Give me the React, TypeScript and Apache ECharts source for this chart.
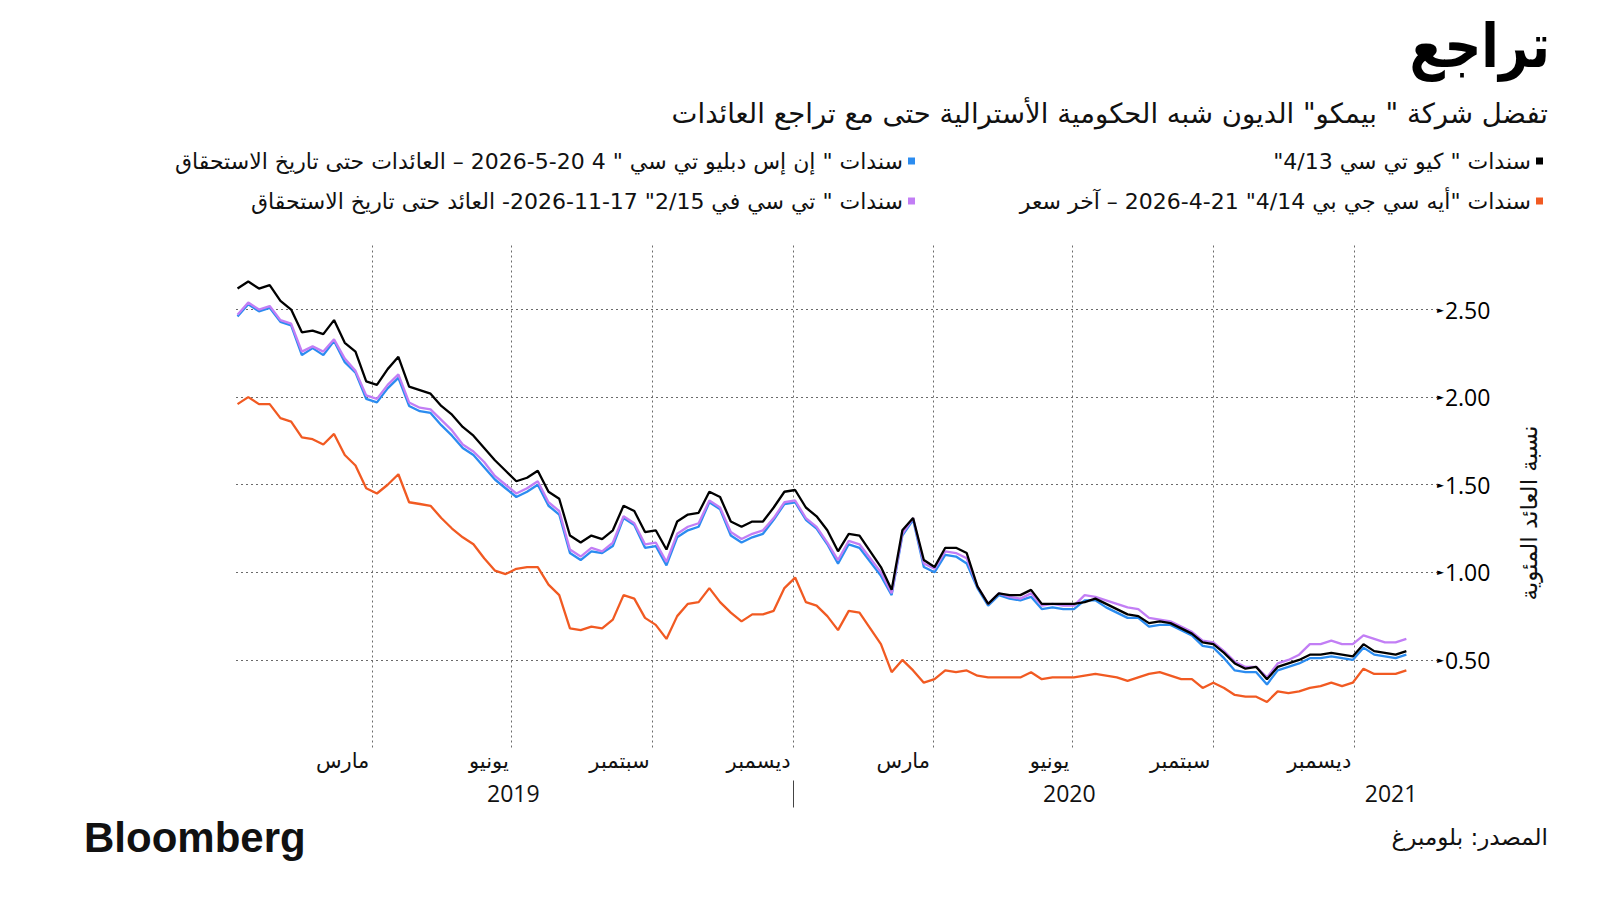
import { useEffect, useRef } from 'react';
import * as echarts from 'echarts';

// ---------- DATA ----------
// weekly observations (Thursdays) from 2019-01-03
const FIRST_WEEK = [2019, 1, 3];
const WEEK_COUNT = 110;

const seriesQTC = [
  2.62, 2.66, 2.62, 2.64, 2.55, 2.50, 2.37, 2.38, 2.36, 2.44, 2.31, 2.26, 2.09, 2.07, 2.16, 2.23, 2.06, 2.04, 2.02, 1.95,
  1.90, 1.83, 1.78, 1.71, 1.64, 1.58, 1.52, 1.54, 1.58, 1.46, 1.42, 1.21, 1.17, 1.21, 1.19, 1.24, 1.38, 1.35, 1.23, 1.24,
  1.13, 1.29, 1.33, 1.34, 1.46, 1.43, 1.29, 1.26, 1.29, 1.29, 1.37, 1.46, 1.47, 1.37, 1.32, 1.24, 1.12, 1.22, 1.21, 1.12,
  1.03, 0.90, 1.24, 1.31, 1.07, 1.03, 1.14, 1.14, 1.11, 0.92, 0.82, 0.88, 0.87, 0.87, 0.90, 0.82, 0.82, 0.82, 0.82, 0.83,
  0.85, 0.82, 0.79, 0.76, 0.75, 0.71, 0.72, 0.71, 0.68, 0.65, 0.60, 0.59, 0.54, 0.48, 0.45, 0.46, 0.39, 0.46, 0.48, 0.50,
  0.53, 0.53, 0.54, 0.53, 0.52, 0.59, 0.55, 0.54, 0.53, 0.55
];
const seriesTCV = [
  2.47, 2.54, 2.50, 2.52, 2.44, 2.42, 2.26, 2.29, 2.26, 2.33, 2.22, 2.15, 2.01, 1.99, 2.07, 2.13, 1.97, 1.94, 1.93, 1.87,
  1.81, 1.73, 1.69, 1.63, 1.55, 1.50, 1.45, 1.48, 1.52, 1.40, 1.35, 1.13, 1.09, 1.14, 1.12, 1.17, 1.32, 1.28, 1.16, 1.17,
  1.06, 1.22, 1.26, 1.28, 1.41, 1.37, 1.23, 1.19, 1.22, 1.24, 1.31, 1.40, 1.41, 1.31, 1.26, 1.17, 1.07, 1.18, 1.16, 1.08,
  1.00, 0.88, 1.22, 1.31, 1.05, 1.02, 1.12, 1.11, 1.08, 0.92, 0.82, 0.88, 0.86, 0.85, 0.88, 0.81, 0.82, 0.81, 0.81, 0.87,
  0.86, 0.84, 0.82, 0.80, 0.79, 0.74, 0.73, 0.72, 0.69, 0.66, 0.61, 0.60, 0.55, 0.49, 0.46, 0.46, 0.40, 0.48, 0.50, 0.53,
  0.59, 0.59, 0.61, 0.59, 0.59, 0.64, 0.62, 0.60, 0.60, 0.62
];
const seriesNSW = [
  2.46, 2.53, 2.49, 2.51, 2.43, 2.41, 2.24, 2.28, 2.24, 2.32, 2.20, 2.14, 1.99, 1.97, 2.05, 2.11, 1.95, 1.92, 1.91, 1.84,
  1.78, 1.71, 1.67, 1.60, 1.53, 1.48, 1.43, 1.46, 1.50, 1.38, 1.33, 1.11, 1.07, 1.12, 1.11, 1.15, 1.31, 1.27, 1.14, 1.15,
  1.04, 1.20, 1.24, 1.26, 1.40, 1.36, 1.21, 1.17, 1.20, 1.22, 1.30, 1.39, 1.40, 1.30, 1.25, 1.16, 1.05, 1.16, 1.14, 1.06,
  0.98, 0.87, 1.21, 1.30, 1.03, 1.00, 1.10, 1.09, 1.05, 0.91, 0.81, 0.87, 0.85, 0.84, 0.86, 0.79, 0.80, 0.79, 0.79, 0.84,
  0.84, 0.80, 0.77, 0.74, 0.74, 0.69, 0.70, 0.70, 0.67, 0.64, 0.58, 0.57, 0.51, 0.44, 0.43, 0.43, 0.36, 0.44, 0.46, 0.48,
  0.51, 0.51, 0.52, 0.51, 0.50, 0.57, 0.53, 0.52, 0.51, 0.53
];
const seriesACGB = [
  1.96, 2.00, 1.96, 1.96, 1.88, 1.86, 1.77, 1.76, 1.73, 1.79, 1.67, 1.61, 1.48, 1.45, 1.50, 1.56, 1.40, 1.39, 1.38, 1.31,
  1.25, 1.20, 1.16, 1.08, 1.01, 0.99, 1.02, 1.03, 1.03, 0.93, 0.87, 0.68, 0.67, 0.69, 0.68, 0.73, 0.87, 0.85, 0.74, 0.70,
  0.62, 0.75, 0.82, 0.83, 0.91, 0.83, 0.77, 0.72, 0.76, 0.76, 0.78, 0.91, 0.97, 0.83, 0.81, 0.75, 0.67, 0.78, 0.77, 0.68,
  0.59, 0.43, 0.50, 0.44, 0.37, 0.39, 0.44, 0.43, 0.44, 0.41, 0.40, 0.40, 0.40, 0.40, 0.43, 0.39, 0.40, 0.40, 0.40, 0.41,
  0.42, 0.41, 0.40, 0.38, 0.40, 0.42, 0.43, 0.41, 0.39, 0.39, 0.34, 0.37, 0.34, 0.30, 0.29, 0.29, 0.26, 0.32, 0.31, 0.32,
  0.34, 0.35, 0.37, 0.35, 0.37, 0.45, 0.42, 0.42, 0.42, 0.44
];

const NAME_QTC = 'سندات " كيو تي سي 4/13"';
const NAME_ACGB = 'سندات "أيه سي جي بي 4/14" 21-4-2026 – آخر سعر';
const NAME_NSW = 'سندات " إن إس دبليو تي سي " 4 20-5-2026 – العائدات حتى تاريخ الاستحقاق';
const NAME_TCV = 'سندات " تي سي في 2/15" 17-11-2026- العائد حتى تاريخ الاستحقاق';

const TITLE = 'تراجع';
const SUBTITLE = 'تفضل شركة " بيمكو" الديون شبه الحكومية الأسترالية حتى مع تراجع العائدات';
const Y_NAME = 'نسبة العائد المئوية';
const SOURCE = 'المصدر: بلومبرغ';
const LOGO = 'Bloomberg';

const X_MIN = '2019-01-02';
const X_MAX = '2021-02-24';
const gridDates = ['2019-04-01', '2019-07-01', '2019-10-01', '2020-01-01', '2020-04-01', '2020-07-01', '2020-10-01', '2021-01-01'];
const monthLabels = ['مارس', 'يونيو', 'سبتمبر', 'ديسمبر', 'مارس', 'يونيو', 'سبتمبر', 'ديسمبر'];
const yearLabelDates = ['2019-07-02', '2020-06-29', '2021-01-25'];
const yearLabels = ['2019', '2020', '2021'];
const yearSeparatorDates = ['2020-01-01'];
const yTicks = [0.5, 1.0, 1.5, 2.0, 2.5];
const Y_MIN = 0;
const Y_MAX = 2.88;

const COLORS = { qtc: '#000000', acgb: '#f15a22', nsw: '#2b8cf0', tcv: '#c27ef5' };

// ---------- helpers ----------
const rtl = (s: string) => '\u202B' + s + '\u202C';
const ts = (s: string) => {
  const [y, m, d] = s.split('-').map(Number);
  return Date.UTC(y, m - 1, d);
};
const weekDates: number[] = Array.from({ length: WEEK_COUNT }, (_, i) =>
  Date.UTC(FIRST_WEEK[0], FIRST_WEEK[1] - 1, FIRST_WEEK[2] + 7 * i)
);
const pair = (vals: number[]) => vals.map((v, i) => [weekDates[i], v]);

const AR_FONT = "'DejaVu Sans', 'Noto Sans', sans-serif";
const NUM_FONT = "'Liberation Sans Narrow', 'Open Sans', 'DejaVu Sans Condensed', sans-serif";

export default function App() {
  const ref = useRef<HTMLDivElement>(null);
  useEffect(() => {
    if (!ref.current) return;
    const chart = echarts.init(ref.current, undefined, { renderer: 'svg' });
    const xMin = ts(X_MIN);
    const xMax = ts(X_MAX);
    const gridTs = gridDates.map(ts);
    const monthMap = new Map<number, string>(gridTs.map((t, i) => [t, monthLabels[i]]));
    const yearTs = yearLabelDates.map(ts);
    const yearMap = new Map<number, string>(yearTs.map((t, i) => [t, yearLabels[i]]));
    const sepTs = yearSeparatorDates.map(ts);
    const dotted = { color: '#6b6b6b', width: 1, type: [2, 3] as any };

    const legendItem = (name: string, right: number, top: number) => ({
      data: [rtl(name)],
      right,
      top,
      orient: 'horizontal',
      align: 'right',
      icon: 'rect',
      itemWidth: 7,
      itemHeight: 7,
      selectedMode: false,
      textStyle: { fontSize: 22, color: '#111', fontFamily: AR_FONT },
    });

    const lineSeries = (name: string, vals: number[], color: string, z: number, extra: any = {}) => ({
      type: 'line',
      name: rtl(name),
      data: pair(vals),
      showSymbol: false,
      symbol: 'none',
      z,
      lineStyle: { color, width: 2.3 },
      itemStyle: { color },
      emphasis: { disabled: true },
      ...extra,
    });

    const option: any = {
      animation: false,
      backgroundColor: '#ffffff',
      textStyle: { fontFamily: AR_FONT },
      grid: { left: 236, right: 163, top: 243, bottom: 152.5, containLabel: false },
      legend: [
        legendItem(NAME_QTC, 52, 145),
        legendItem(NAME_ACGB, 52, 185),
        legendItem(NAME_NSW, 680, 145),
        legendItem(NAME_TCV, 680, 185),
      ],
      xAxis: [
        {
          type: 'value',
          min: xMin,
          max: xMax,
          position: 'bottom',
          axisLine: { show: false },
          splitLine: { show: false },
          axisTick: { show: false, customValues: gridTs },
          axisLabel: {
            customValues: gridTs,
            formatter: (v: number) => monthMap.get(v) ?? '',
            align: 'right',
            margin: 3,
            padding: [0, 3, 0, 0],
            fontSize: 21,
            color: '#111',
            fontFamily: AR_FONT,
            hideOverlap: false,
          },
        },
        {
          type: 'value',
          min: xMin,
          max: xMax,
          position: 'bottom',
          offset: 33,
          axisLine: { show: false },
          splitLine: { show: false },
          axisTick: { show: true, customValues: sepTs, length: 27, lineStyle: { color: '#444', width: 1 } },
          axisLabel: {
            customValues: yearTs,
            formatter: (v: number) => yearMap.get(v) ?? '',
            margin: 1,
            fontSize: 23,
            color: '#111',
            fontFamily: NUM_FONT,
            hideOverlap: false,
          },
        },
      ],
      yAxis: {
        type: 'value',
        position: 'right',
        min: Y_MIN,
        max: Y_MAX,
        interval: 0.5,
        axisLine: { show: false },
        axisTick: { show: false },
        splitLine: { show: false },
        axisLabel: {
          customValues: yTicks,
          margin: 0,
          formatter: (v: number) => (yTicks.some((t) => Math.abs(t - v) < 1e-9) ? `{a|►}{b|${v.toFixed(2)}}` : ''),
          rich: {
            a: { fontSize: 9, color: '#000', fontFamily: "'DejaVu Sans', sans-serif", padding: [0, 1, 0, 0] },
            b: { fontSize: 23, color: '#000', fontFamily: NUM_FONT },
          },
        },
      },
      series: [
        lineSeries(NAME_NSW, seriesNSW, COLORS.nsw, 3, {
          markLine: {
            silent: true,
            symbol: 'none',
            z: 1,
            label: { show: false },
            lineStyle: dotted,
            emphasis: { disabled: true },
            data: [
              ...yTicks.map((v) => ({ yAxis: v })),
              ...gridTs.map((t) => ({ xAxis: t })),
            ],
          },
        }),
        lineSeries(NAME_TCV, seriesTCV, COLORS.tcv, 4),
        lineSeries(NAME_ACGB, seriesACGB, COLORS.acgb, 5),
        lineSeries(NAME_QTC, seriesQTC, COLORS.qtc, 6),
      ],
      graphic: [
        {
          type: 'text', x: 1550, y: 46, scaleX: 0.84, silent: true,
          style: { text: rtl(TITLE), align: 'right', verticalAlign: 'middle', fontSize: 61, fontWeight: 'bold', fontFamily: AR_FONT, fill: '#000' },
        },
        {
          type: 'text', x: 1548, y: 113, silent: true,
          style: { text: rtl(SUBTITLE), align: 'right', verticalAlign: 'middle', fontSize: 27.5, fontFamily: AR_FONT, fill: '#111' },
        },
        {
          type: 'text', x: 1529, y: 513, rotation: Math.PI / 2, silent: true,
          style: { text: rtl(Y_NAME), align: 'center', verticalAlign: 'middle', fontSize: 23, fontFamily: AR_FONT, fill: '#111' },
        },
        {
          type: 'text', x: 84, y: 837, silent: true,
          style: { text: LOGO, align: 'left', verticalAlign: 'middle', fontSize: 42, fontWeight: 'bold', fontFamily: "'Liberation Sans', Arial, sans-serif", fill: '#111' },
        },
        {
          type: 'text', x: 1548, y: 837, silent: true,
          style: { text: rtl(SOURCE), align: 'right', verticalAlign: 'middle', fontSize: 23, fontFamily: AR_FONT, fill: '#111' },
        },
      ],
    };
    chart.setOption(option);
    return () => chart.dispose();
  }, []);
  return (
    <div
      ref={ref}
      style={{ position: 'fixed', left: 0, top: 0, width: 1600, height: 900, background: '#fff' }}
    />
  );
}
